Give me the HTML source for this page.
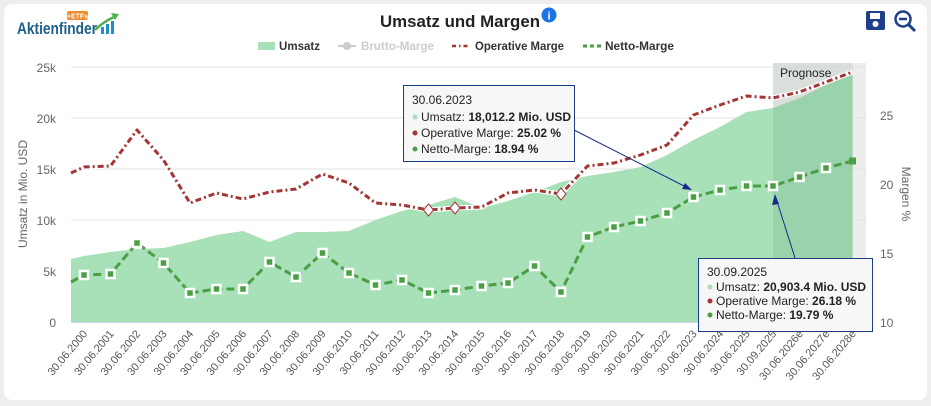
<!DOCTYPE html>
<html><head><meta charset="utf-8"><style>
html,body{margin:0;padding:0;background:#eeeeee;}
body{width:931px;height:406px;overflow:hidden;font-family:"Liberation Sans",sans-serif;}
.card{position:absolute;left:4px;top:4px;width:923px;height:396px;background:#fff;border-radius:8px;}
</style></head><body>
<div class="card"></div>
<svg width="931" height="406" style="position:absolute;left:0;top:0" font-family="Liberation Sans, sans-serif">
<!-- logo -->
<text x="17" y="34" font-size="17" font-weight="bold" fill="#1d5f8a" textLength="80" lengthAdjust="spacingAndGlyphs">Aktienfinder</text>
<rect x="67" y="11" width="21" height="9" rx="2" fill="#f08a2c"/>
<text x="77.5" y="18.5" font-size="7" font-weight="bold" fill="#fff" text-anchor="middle">+ETFs</text>
<rect x="101" y="27" width="3" height="7" fill="#1d8fd0"/><rect x="106" y="24" width="3" height="10" fill="#1d8fd0"/><rect x="111" y="21" width="3" height="13" fill="#1d8fd0"/>
<path d="M95 30 Q103 22 114 17" stroke="#4caf50" stroke-width="2.5" fill="none"/><path d="M111 13 L119 14 L115 20 Z" fill="#4caf50"/>
<!-- title -->
<text x="460" y="27" font-size="17" font-weight="bold" fill="#222" text-anchor="middle" textLength="160" lengthAdjust="spacingAndGlyphs">Umsatz und Margen</text>
<circle cx="549" cy="15" r="7.5" fill="#1a73e8"/><text x="549" y="19.5" font-size="11" font-weight="bold" fill="#fff" text-anchor="middle">i</text>
<!-- icons -->
<rect x="866" y="11" width="19" height="19" rx="2" fill="#1e3f8a"/><rect x="870" y="13" width="10" height="6" fill="#fff"/><circle cx="875.5" cy="24" r="3" fill="#fff"/>
<circle cx="903" cy="19" r="7.5" stroke="#1e3f8a" stroke-width="2.5" fill="none"/><line x1="899" y1="19" x2="907" y2="19" stroke="#1e3f8a" stroke-width="2.5"/><line x1="908.5" y1="24.5" x2="915" y2="31" stroke="#1e3f8a" stroke-width="3"/>
<!-- legend -->
<rect x="258" y="42" width="17" height="8" fill="#a8e0b8"/>
<text x="279" y="50" font-size="12" font-weight="bold" fill="#333" textLength="41" lengthAdjust="spacingAndGlyphs">Umsatz</text>
<line x1="338" y1="46" x2="356" y2="46" stroke="#ccc" stroke-width="2"/><circle cx="347" cy="46" r="4" fill="#ccc"/>
<text x="361" y="50" font-size="12" font-weight="bold" fill="#ccc" textLength="73" lengthAdjust="spacingAndGlyphs">Brutto-Marge</text>
<line x1="452" y1="46" x2="470" y2="46" stroke="#a33535" stroke-width="2.5" stroke-dasharray="4,3,1.5,3"/>
<text x="475" y="50" font-size="12" font-weight="bold" fill="#333" textLength="89" lengthAdjust="spacingAndGlyphs">Operative Marge</text>
<line x1="583" y1="46" x2="601" y2="46" stroke="#4a9e44" stroke-width="3" stroke-dasharray="4,3"/>
<text x="605" y="50" font-size="12" font-weight="bold" fill="#333" textLength="69" lengthAdjust="spacingAndGlyphs">Netto-Marge</text>
<!-- band -->
<rect x="773" y="63" width="93" height="259" fill="#ededed"/>
<!-- grid -->
<g stroke="#e3e3e3" stroke-width="1">
<line x1="71" y1="67" x2="866" y2="67"/><line x1="71" y1="118" x2="866" y2="118"/><line x1="71" y1="169" x2="866" y2="169"/><line x1="71" y1="220" x2="866" y2="220"/><line x1="71" y1="271" x2="866" y2="271"/>
</g>
<!-- area -->
<path d="M71,322 L71,259 84,256 110.5,252 137,249 163.5,248 190,242 216.5,235 243,231 269.5,242 296,232 322.5,232 349,231 375.5,220 402,211 428.5,205 455,197 481.5,208 508,201 534.5,192 561,182 587.5,176 614,172 640.5,167 667,155 693.5,140 720,127 746.5,112 773,108 799.5,98 826,85 852.5,72 L852.5,322 Z" fill="#a8e0b8"/>
<rect x="773" y="63" width="80" height="259" fill="rgba(0,60,20,0.08)"/>
<line x1="71" y1="322.5" x2="866" y2="322.5" stroke="#ccd6eb"/>
<text x="780" y="77" font-size="12" fill="#222">Prognose</text>
<!-- red -->
<polyline fill="none" stroke="#fff" stroke-width="5" points="71,173 84,167 110.5,166 137,130 163.5,160 190,203 216.5,193 243,199 269.5,192 296,189 322.5,174 349,183 375.5,203 402,205 428.5,210 455,208 481.5,207 508,193 534.5,190 561,194 587.5,166 614,163 640.5,155 667,145 693.5,115 720,105 746.5,96 773,98 799.5,92 826,82 852.5,72"/>
<polyline fill="none" stroke="#a33535" stroke-width="3" stroke-dasharray="6,3,2,3" stroke-linejoin="round" points="71,173 84,167 110.5,166 137,130 163.5,160 190,203 216.5,193 243,199 269.5,192 296,189 322.5,174 349,183 375.5,203 402,205 428.5,210 455,208 481.5,207 508,193 534.5,190 561,194 587.5,166 614,163 640.5,155 667,145 693.5,115 720,105 746.5,96 773,98 799.5,92 826,82 852.5,72"/>
<g fill="#fff" stroke="#a33535" stroke-width="1"><path d="M428.5,204 l5,6 -5,6 -5,-6z"/><path d="M455,202 l5,6 -5,6 -5,-6z"/><path d="M561,188 l5,6 -5,6 -5,-6z"/></g>
<!-- green -->
<polyline fill="none" stroke="#4a9e44" stroke-width="3" stroke-dasharray="8,4" points="71,282 84,275 110.5,274 137,243 163.5,263 190,293 216.5,289 243,289 269.5,262 296,277 322.5,253 349,273 375.5,285 402,280 428.5,293 455,290 481.5,286 508,283 534.5,266 561,292 587.5,237 614,227 640.5,221 667,213 693.5,197 720,190 746.5,186 773,186 799.5,177 826,168 852.5,161"/>
<g fill="#4a9e44" stroke="#fff" stroke-width="2.5">
<rect x="80" y="271" width="8" height="8"/><rect x="106.5" y="270" width="8" height="8"/><rect x="133" y="239" width="8" height="8"/><rect x="159.5" y="259" width="8" height="8"/><rect x="186" y="289" width="8" height="8"/><rect x="212.5" y="285" width="8" height="8"/><rect x="239" y="285" width="8" height="8"/><rect x="265.5" y="258" width="8" height="8"/><rect x="292" y="273" width="8" height="8"/><rect x="318.5" y="249" width="8" height="8"/><rect x="345" y="269" width="8" height="8"/><rect x="371.5" y="281" width="8" height="8"/><rect x="398" y="276" width="8" height="8"/><rect x="424.5" y="289" width="8" height="8"/><rect x="451" y="286" width="8" height="8"/><rect x="477.5" y="282" width="8" height="8"/><rect x="504" y="279" width="8" height="8"/><rect x="530.5" y="262" width="8" height="8"/><rect x="557" y="288" width="8" height="8"/><rect x="583.5" y="233" width="8" height="8"/><rect x="610" y="223" width="8" height="8"/><rect x="636.5" y="217" width="8" height="8"/><rect x="663" y="209" width="8" height="8"/><rect x="689.5" y="193" width="8" height="8"/><rect x="716" y="186" width="8" height="8"/><rect x="742.5" y="182" width="8" height="8"/><rect x="769" y="182" width="8" height="8"/><rect x="795.5" y="173" width="8" height="8"/><rect x="822" y="164" width="8" height="8"/>
</g>
<rect x="849" y="157.5" width="7" height="7" fill="#4a9e44"/>
<!-- axis labels -->
<g font-size="12" fill="#666" text-anchor="end">
<text x="56" y="72">25k</text><text x="56" y="123">20k</text><text x="56" y="174">15k</text><text x="56" y="225">10k</text><text x="56" y="276">5k</text><text x="56" y="327">0</text>
</g>
<g font-size="12" fill="#666">
<text x="880" y="120">25</text><text x="880" y="189">20</text><text x="880" y="258">15</text><text x="880" y="327">10</text>
</g>
<text transform="translate(27,194) rotate(-90)" font-size="12" fill="#666" text-anchor="middle">Umsatz in Mio. USD</text>
<text transform="translate(902,194) rotate(90)" font-size="12" fill="#666" text-anchor="middle">Margen %</text>
<g font-size="11" fill="#555" text-anchor="end">
<text transform="translate(88,334) rotate(-50)">30.06.2000</text>
<text transform="translate(114.5,334) rotate(-50)">30.06.2001</text>
<text transform="translate(141,334) rotate(-50)">30.06.2002</text>
<text transform="translate(167.5,334) rotate(-50)">30.06.2003</text>
<text transform="translate(194,334) rotate(-50)">30.06.2004</text>
<text transform="translate(220.5,334) rotate(-50)">30.06.2005</text>
<text transform="translate(247,334) rotate(-50)">30.06.2006</text>
<text transform="translate(273.5,334) rotate(-50)">30.06.2007</text>
<text transform="translate(300,334) rotate(-50)">30.06.2008</text>
<text transform="translate(326.5,334) rotate(-50)">30.06.2009</text>
<text transform="translate(353,334) rotate(-50)">30.06.2010</text>
<text transform="translate(379.5,334) rotate(-50)">30.06.2011</text>
<text transform="translate(406,334) rotate(-50)">30.06.2012</text>
<text transform="translate(432.5,334) rotate(-50)">30.06.2013</text>
<text transform="translate(459,334) rotate(-50)">30.06.2014</text>
<text transform="translate(485.5,334) rotate(-50)">30.06.2015</text>
<text transform="translate(512,334) rotate(-50)">30.06.2016</text>
<text transform="translate(538.5,334) rotate(-50)">30.06.2017</text>
<text transform="translate(565,334) rotate(-50)">30.06.2018</text>
<text transform="translate(591.5,334) rotate(-50)">30.06.2019</text>
<text transform="translate(618,334) rotate(-50)">30.06.2020</text>
<text transform="translate(644.5,334) rotate(-50)">30.06.2021</text>
<text transform="translate(671,334) rotate(-50)">30.06.2022</text>
<text transform="translate(697.5,334) rotate(-50)">30.06.2023</text>
<text transform="translate(724,334) rotate(-50)">30.06.2024</text>
<text transform="translate(750.5,334) rotate(-50)">30.06.2025</text>
<text transform="translate(777,334) rotate(-50)">30.09.2025</text>
<text transform="translate(803.5,334) rotate(-50)">30.06.2026e</text>
<text transform="translate(830,334) rotate(-50)">30.06.2027e</text>
<text transform="translate(856.5,334) rotate(-50)">30.06.2028e</text>
</g>
<!-- arrows -->
<line x1="574" y1="130" x2="688" y2="188" stroke="#1a2a8a" stroke-width="1"/><path d="M692,190 l-10,-1 3,-6z" fill="#1a2a8a"/>
<line x1="795" y1="258" x2="776" y2="198" stroke="#1a2a8a" stroke-width="1"/><path d="M775,194 l4,10 -7,1z" fill="#1a2a8a"/>
<!-- tooltip 1 -->
<rect x="403.5" y="85.5" width="171" height="76" fill="#f7f7f7" stroke="#1a3f8a" stroke-width="1"/>
<g font-size="12" fill="#222">
<text x="412" y="104">30.06.2023</text>
<circle cx="415" cy="117" r="2.5" fill="#a8e0b8"/><text x="421" y="121">Umsatz: <tspan font-weight="bold">18,012.2 Mio. USD</tspan></text>
<circle cx="415" cy="133" r="2.5" fill="#a33535"/><text x="421" y="137">Operative Marge: <tspan font-weight="bold">25.02 %</tspan></text>
<circle cx="415" cy="149" r="2.5" fill="#4a9e44"/><text x="421" y="153">Netto-Marge: <tspan font-weight="bold">18.94 %</tspan></text>
</g>
<!-- tooltip 2 -->
<rect x="698.5" y="258.5" width="174" height="73" fill="#f7f7f7" stroke="#1a3f8a" stroke-width="1"/>
<g font-size="12" fill="#222">
<text x="707" y="276">30.09.2025</text>
<circle cx="710" cy="287" r="2.5" fill="#a8e0b8"/><text x="716" y="291">Umsatz: <tspan font-weight="bold">20,903.4 Mio. USD</tspan></text>
<circle cx="710" cy="301" r="2.5" fill="#a33535"/><text x="716" y="305">Operative Marge: <tspan font-weight="bold">26.18 %</tspan></text>
<circle cx="710" cy="315" r="2.5" fill="#4a9e44"/><text x="716" y="319">Netto-Marge: <tspan font-weight="bold">19.79 %</tspan></text>
</g>
</svg>
</body></html>
